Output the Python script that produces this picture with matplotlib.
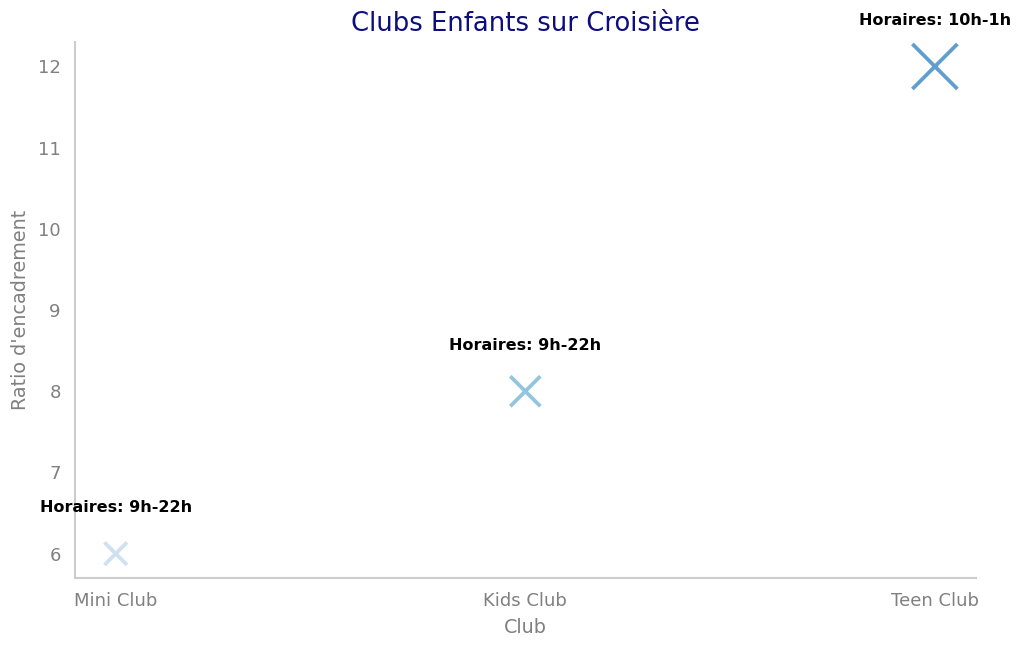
import numpy as np
import matplotlib as mpl
mpl.use('Agg')
import matplotlib.pyplot as plt

plt.rcParams['font.family'] = ['DejaVu Sans']

# data
clubs = ["Mini Club", "Kids Club", "Teen Club"]
ratios = [6, 8, 12]
horaires = ["9h-22h", "9h-22h", "10h-1h"]

# style
marker_colors = ["#cfe1f0", "#93c5df", "#5f9ecf"]
grey = "#808080"

fig = plt.figure(figsize=(10.24, 6.48), dpi=100)
ax = fig.add_axes([0.073, 0.108, 0.880, 0.827])

x = np.arange(len(clubs))
sizes = np.array(ratios) ** 2 * 7.3
ax.scatter(x, ratios, s=sizes, marker="x", c=marker_colors, linewidths=2.7)

for xi, r, h in zip(x, ratios, horaires):
    ax.text(xi, r + 0.47, f"Horaires: {h}", ha="center", va="bottom",
            fontsize=11.5, fontweight="bold", color="black")

ax.set_xticks(x)
ax.set_xticklabels(clubs)
ax.set_xlim(-0.1, 2.1)
ax.set_ylim(5.7, 12.3)

ax.set_title("Clubs Enfants sur Croisière", fontsize=18.6, color="#0d0d80", pad=8)
ax.set_xlabel("Club", fontsize=13.8, color=grey, labelpad=6)
ax.set_ylabel("Ratio d'encadrement", fontsize=13.8, color=grey, labelpad=6)
ax.tick_params(length=0, labelsize=13, labelcolor=grey, pad=10)

for side in ["top", "right"]:
    ax.spines[side].set_visible(False)
for side in ["left", "bottom"]:
    ax.spines[side].set_color("#cccccc")
    ax.spines[side].set_linewidth(1.5)

fig.savefig("out.png", dpi=100)
